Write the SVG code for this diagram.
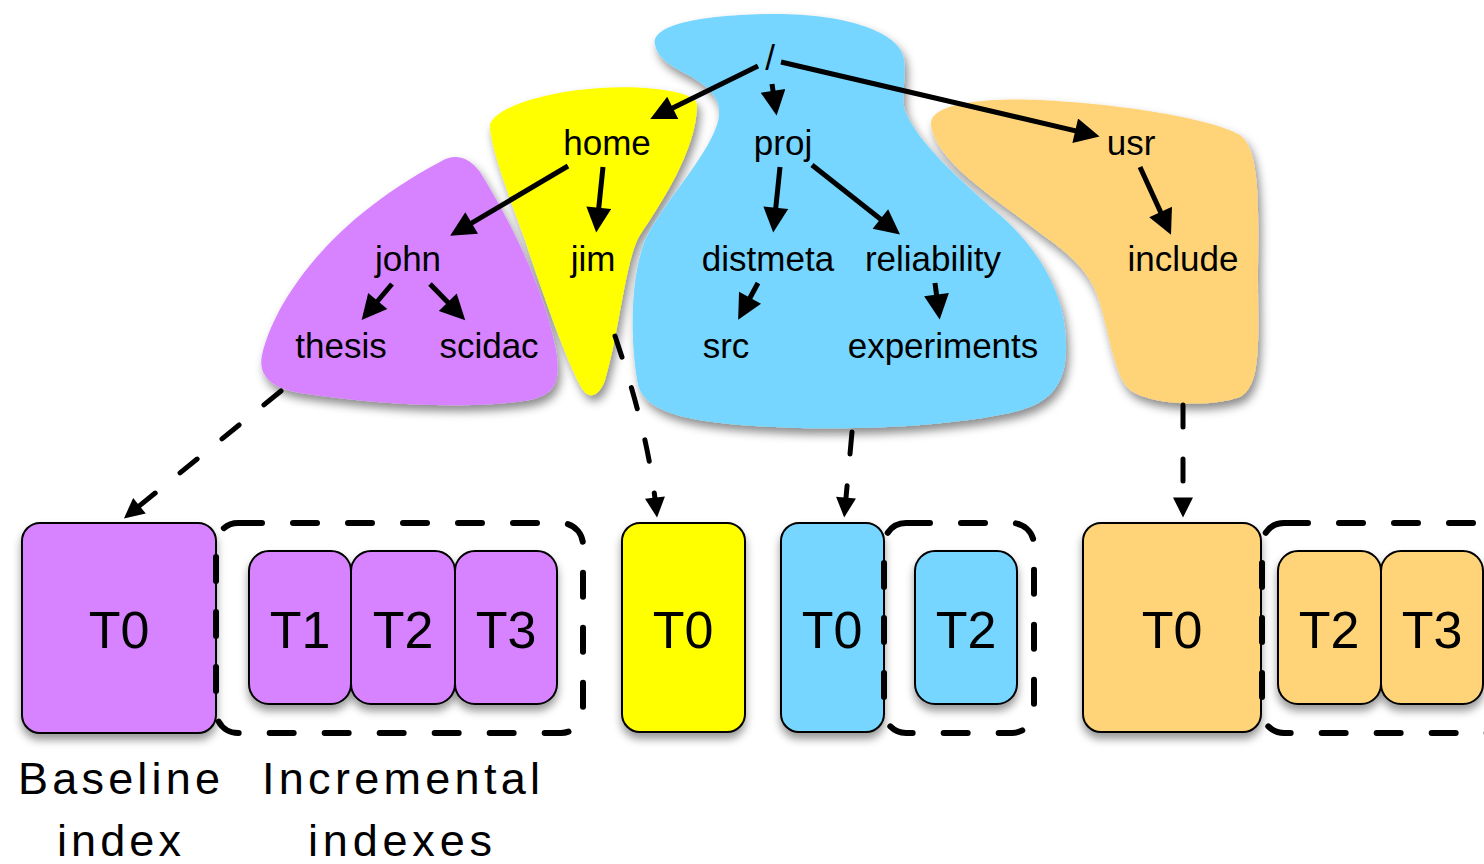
<svg xmlns="http://www.w3.org/2000/svg" width="1484" height="864" viewBox="0 0 1484 864">
<style>
  .lbl { font-family: "Liberation Sans", Arial, Helvetica, sans-serif; font-size: 35px; fill: #000; text-anchor: middle; }
  .box { stroke: #000; stroke-width: 2; }
  .bt { font-family: "Liberation Sans", Arial, Helvetica, sans-serif; font-size: 52px; fill: #000; text-anchor: middle; }
  .cap { font-family: "Liberation Sans", Arial, Helvetica, sans-serif; font-size: 45px; fill: #000; }
  .arr { stroke: #000; stroke-width: 5; fill: none; marker-end: url(#ah); }
  .darr { stroke: #000; stroke-width: 5; fill: none; stroke-dasharray: 22 32; stroke-linecap: round; marker-end: url(#dh); }
  .grp { stroke: #000; stroke-width: 6; fill: none; stroke-dasharray: 24 31; stroke-linecap: round; }
  .purple { fill: #D783FF; }
  .yellow { fill: #FFFF00; }
  .blue { fill: #76D6FF; }
  .orange { fill: #FFD479; }
</style>
<defs>
  <filter id="sh" x="-20%" y="-20%" width="140%" height="150%">
    <feDropShadow dx="3" dy="6" stdDeviation="5" flood-color="#000" flood-opacity="0.45"/>
  </filter>
  <filter id="bsh" x="-20%" y="-20%" width="140%" height="150%">
    <feDropShadow dx="0" dy="6" stdDeviation="4" flood-color="#000" flood-opacity="0.4"/>
  </filter>
  <marker id="ah" viewBox="0 0 10 10" refX="5" refY="5" markerWidth="6" markerHeight="5" orient="auto" markerUnits="strokeWidth">
    <path d="M0,0 L10,5 L0,10 z" fill="#000"/>
  </marker>
  <marker id="dh" viewBox="0 0 10 10" refX="5" refY="5" markerWidth="5" markerHeight="4" orient="auto" markerUnits="strokeWidth">
    <path d="M0,0 L10,5 L0,10 z" fill="#000"/>
  </marker>
</defs>
<rect width="1484" height="864" fill="#ffffff"/>

<g id="blobs" filter="url(#sh)">
  <path id="blob-blue" class="blue" d="M 655,45 C 650,25 700,15 770,14 C 840,13 895,30 903,55 C 908,75 900,95 905,110 C 915,140 960,180 1000,215 C 1045,255 1066,300 1066,345 C 1067,390 1045,405 1010,413 C 940,428 830,432 740,425 C 680,420 645,410 638,385 C 630,340 630,280 645,240 C 665,200 705,160 717,125 C 725,100 710,88 690,76 C 670,66 658,58 655,45 Z"/>
  <path id="blob-orange" class="orange" d="M 931,125 C 928,100 1000,98 1040,100 C 1120,104 1210,118 1240,135 C 1262,150 1258,220 1258,280 C 1258,340 1262,385 1240,397 C 1210,408 1150,405 1130,390 C 1112,375 1108,320 1095,290 C 1080,258 1055,245 1020,218 C 975,185 935,155 931,125 Z"/>
  <path id="blob-yellow" class="yellow" d="M 490,128 C 488,110 540,92 600,88 C 650,85 697,92 697,105 C 697,150 660,205 640,235 C 625,260 620,330 605,380 C 600,395 590,400 583,390 C 570,370 545,300 525,240 C 505,185 492,150 490,128 Z"/>
  <path id="blob-purple" class="purple" d="M 440,162 C 455,152 470,158 480,172 C 510,220 545,290 556,350 C 562,385 552,395 530,400 C 470,410 380,405 300,393 C 270,388 258,375 262,355 C 275,300 330,220 440,162 Z"/>
</g>

<g id="tree-nodes">
  <g id="n-root"><text class="lbl" x="770" y="70">/</text></g>
  <g id="n-home"><text class="lbl" x="607" y="155">home</text></g>
  <g id="n-proj"><text class="lbl" x="783" y="155">proj</text></g>
  <g id="n-usr"><text class="lbl" x="1131" y="155">usr</text></g>
  <g id="n-john"><text class="lbl" x="408" y="271">john</text></g>
  <g id="n-jim"><text class="lbl" x="593" y="271">jim</text></g>
  <g id="n-distmeta"><text class="lbl" x="768" y="271">distmeta</text></g>
  <g id="n-reliability"><text class="lbl" x="933" y="271">reliability</text></g>
  <g id="n-include"><text class="lbl" x="1183" y="271">include</text></g>
  <g id="n-thesis"><text class="lbl" x="341" y="358">thesis</text></g>
  <g id="n-scidac"><text class="lbl" x="489" y="358">scidac</text></g>
  <g id="n-src"><text class="lbl" x="726" y="358">src</text></g>
  <g id="n-experiments"><text class="lbl" x="943" y="358">experiments</text></g>
</g>

<g id="bottom-boxes">
  <g id="purple-indexes" filter="url(#bsh)">
    <rect id="p-t0" class="box purple" x="22" y="523" width="194" height="210" rx="18"/>
    <rect id="p-t1" class="box purple" x="249" y="551" width="102" height="153" rx="20"/>
    <rect id="p-t2" class="box purple" x="351" y="551" width="104" height="153" rx="20"/>
    <rect id="p-t3" class="box purple" x="455" y="551" width="102" height="153" rx="20"/>
  </g>
  <text class="bt" x="119" y="648">T0</text>
  <text class="bt" x="300" y="648">T1</text>
  <text class="bt" x="403" y="648">T2</text>
  <text class="bt" x="506" y="648">T3</text>

  <g id="yellow-indexes" filter="url(#bsh)">
    <rect id="y-t0" class="box yellow" x="622" y="523" width="123" height="209" rx="18"/>
  </g>
  <text class="bt" x="683" y="648">T0</text>

  <g id="blue-indexes" filter="url(#bsh)">
    <rect id="b-t0" class="box blue" x="781" y="523" width="103" height="209" rx="18"/>
    <rect id="b-t2" class="box blue" x="915" y="551" width="102" height="153" rx="20"/>
  </g>
  <text class="bt" x="832" y="648">T0</text>
  <text class="bt" x="966" y="648">T2</text>

  <g id="orange-indexes" filter="url(#bsh)">
    <rect id="o-t0" class="box orange" x="1083" y="523" width="178" height="209" rx="18"/>
    <rect id="o-t2" class="box orange" x="1278" y="551" width="103" height="153" rx="20"/>
    <rect id="o-t3" class="box orange" x="1381" y="551" width="102" height="153" rx="20"/>
  </g>
  <text class="bt" x="1172" y="648">T0</text>
  <text class="bt" x="1329" y="648">T2</text>
  <text class="bt" x="1432" y="648">T3</text>

  <g id="incremental-groups">
    <rect class="grp" x="216" y="523" width="367" height="210" rx="22"/>
    <rect class="grp" x="884" y="523" width="150" height="210" rx="22"/>
    <rect class="grp" x="1262" y="523" width="260" height="210" rx="22"/>
  </g>
</g>

<g id="captions">
  <text class="cap" x="18" y="794" textLength="202" lengthAdjust="spacing">Baseline</text>
  <text class="cap" x="57" y="856" textLength="124" lengthAdjust="spacing">index</text>
  <text class="cap" x="262" y="794" textLength="278" lengthAdjust="spacing">Incremental</text>
  <text class="cap" x="308" y="856" textLength="184" lengthAdjust="spacing">indexes</text>
</g>

<g id="connectors">
  <line class="arr" x1="758" y1="66" x2="661.5" y2="113.4"/>
  <line class="arr" x1="772" y1="84" x2="774.8" y2="103.2"/>
  <line class="arr" x1="781" y1="62" x2="1087.4" y2="133.6"/>
  <line class="arr" x1="568" y1="166" x2="460.9" y2="229.4"/>
  <line class="arr" x1="603" y1="167" x2="597.5" y2="220.1"/>
  <line class="arr" x1="780" y1="167" x2="774.5" y2="220.1"/>
  <line class="arr" x1="812" y1="165" x2="890.2" y2="226.7"/>
  <line class="arr" x1="1140" y1="167" x2="1165.8" y2="223.4"/>
  <line class="arr" x1="392" y1="284" x2="369.7" y2="310.5"/>
  <line class="arr" x1="430" y1="284" x2="456.5" y2="311.2"/>
  <line class="arr" x1="758" y1="283" x2="744.1" y2="308.8"/>
  <line class="arr" x1="935" y1="283" x2="938.1" y2="307.1"/>
  <path class="darr" d="M 281,391 L 131.7,512.1"/>
  <path class="darr" d="M 615,336 C 635,395 650,450 656,507.6"/>
  <path class="darr" d="M 852,432 L 845.1,507.5"/>
  <path class="darr" d="M 1183,405 L 1183,507.5"/>
</g>
</svg>
